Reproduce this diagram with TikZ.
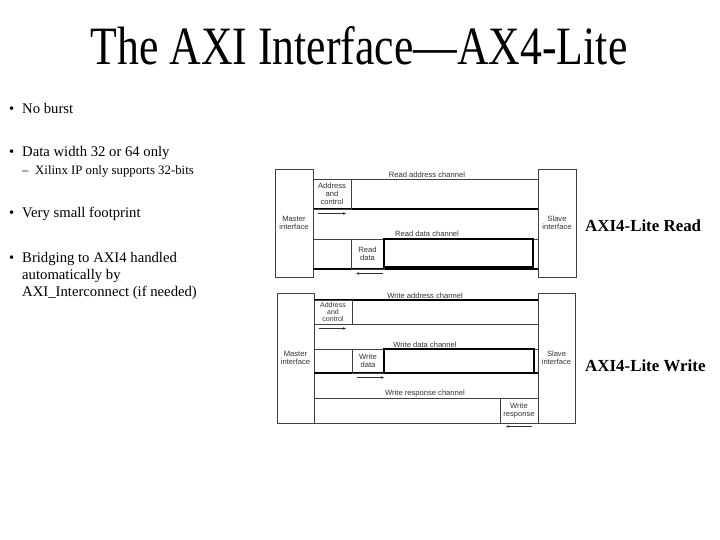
\documentclass[tikz,border=0pt]{standalone}
\usepackage{fontspec}
\usepackage{graphicx}
\usetikzlibrary{arrows.meta}
\setmainfont{Liberation Serif}
\setsansfont{Liberation Sans}
\begin{document}
\begin{tikzpicture}[x=1pt,y=-1pt,
  ln/.style={draw=black!75,line width=0.8pt},
  thk/.style={draw=black,line width=1.2pt},
  lbl/.style={font=\sffamily\fontsize{7.6}{8.2}\selectfont,text=black!80,inner sep=0pt,align=center},
  tight/.style={font=\sffamily\fontsize{7}{7.3}\selectfont},
  bul/.style={font=\fontsize{14.7}{17}\selectfont,anchor=base west,inner sep=0pt},
  sub/.style={font=\fontsize{12.8}{14}\selectfont,anchor=base west,inner sep=0pt},
  side/.style={font=\bfseries\fontsize{16.9}{18}\selectfont,anchor=base west,inner sep=0pt},
  arr/.style={draw=black!80,line width=0.8pt,-{Stealth[length=3pt,width=2.5pt]}}]
\useasboundingbox (0,0) rectangle (720,540);
\fill[white] (0,0) rectangle (720,540);
% title
\node[font=\fontsize{54}{60}\selectfont,inner sep=0pt,anchor=base] (title) at (359,65) {\scalebox{0.81}[1]{The AXI Interface—AX4-Lite}};
% bullets
\node[bul] (b1d) at (9,114) {•};
\node[bul] (b1) at (22,114) {No burst};
\node[bul] (b2d) at (9,157) {•};
\node[bul] (b2) at (22,157) {Data width 32 or 64 only};
\node[sub] (s1d) at (22,175) {–};
\node[sub] (s1) at (35,175) {Xilinx IP only supports 32-bits};
\node[bul] (b3d) at (9,218) {•};
\node[bul] (b3) at (22,218) {Very small footprint};
\node[bul] (b4d) at (9,262) {•};
\node[bul] (b4a) at (22,262) {Bridging to AXI4 handled};
\node[bul] (b4b) at (22,279) {automatically by};
\node[bul] (b4c) at (22,296) {AXI\_Interconnect (if needed)};
% ---------- Read diagram ----------
\node[ln,minimum width=38pt,minimum height=108pt,inner sep=0pt,lbl] (rm) at (294,223) {Master\\interface};
\node[ln,minimum width=38pt,minimum height=108pt,inner sep=0pt,lbl] (rs) at (557,223) {Slave\\interface};
\node[lbl] (rac) at (427,174.5) {Read address channel};
\draw[ln] (313,179) -- (538,179);
\draw[thk] (313,209) -- (538,209);
\node[ln,minimum width=38pt,minimum height=30pt,inner sep=0pt,lbl] (rab) at (332,194) {Address\\and\\control};
\coordinate (ra1) at (318,213.5);
\coordinate (ra2) at (346,213.5);
\draw[arr] (ra1) -- (ra2);
\node[lbl] (rdc) at (427,233.5) {Read data channel};
\draw[ln] (313,239) -- (538,239);
\draw[thk] (313,269) -- (538,269);
\node[ln,minimum width=33pt,minimum height=30pt,inner sep=0pt,lbl] (rdb) at (367.5,254) {Read\\data};
\node[thk,minimum width=149pt,minimum height=28pt,inner sep=0pt] (rdr) at (458.5,253) {};
\coordinate (rd1) at (383,273.5);
\coordinate (rd2) at (356,273.5);
\draw[arr] (rd1) -- (rd2);
\node[side] (rlab) at (585,231) {AXI4-Lite Read};
% ---------- Write diagram ----------
\node[ln,minimum width=37pt,minimum height=130pt,inner sep=0pt,lbl] (wm) at (295.5,358) {Master\\interface};
\node[ln,minimum width=37pt,minimum height=130pt,inner sep=0pt,lbl] (ws) at (556.5,358) {Slave\\interface};
\node[lbl] (wac) at (425,295.5) {Write address channel};
\draw[thk] (314,300) -- (538,300);
\draw[ln] (314,324) -- (538,324);
\node[ln,minimum width=38pt,minimum height=24pt,inner sep=0pt,lbl,tight] (wab) at (333,312) {Address\\and\\control};
\coordinate (wa1) at (319,328.5);
\coordinate (wa2) at (346,328.5);
\draw[arr] (wa1) -- (wa2);
\node[lbl] (wdc) at (425,344.5) {Write data channel};
\draw[ln] (314,349) -- (538,349);
\draw[thk] (314,373) -- (538,373);
\node[ln,minimum width=32pt,minimum height=24pt,inner sep=0pt,lbl] (wdb) at (368,361) {Write\\data};
\node[thk,minimum width=150pt,minimum height=24pt,inner sep=0pt] (wdr) at (459,361) {};
\coordinate (wd1) at (357,377.5);
\coordinate (wd2) at (384,377.5);
\draw[arr] (wd1) -- (wd2);
\node[lbl] (wrc) at (425,393.5) {Write response channel};
\draw[ln] (314,398) -- (538,398);
\draw[ln] (314,423) -- (538,423);
\node[ln,minimum width=38pt,minimum height=25pt,inner sep=0pt,lbl] (wrb) at (519,410.5) {Write\\response};
\coordinate (wr1) at (532,426.5);
\coordinate (wr2) at (506,426.5);
\draw[arr] (wr1) -- (wr2);
\node[side] (wlab) at (585,371) {AXI4-Lite Write};
\end{tikzpicture}
\end{document}
